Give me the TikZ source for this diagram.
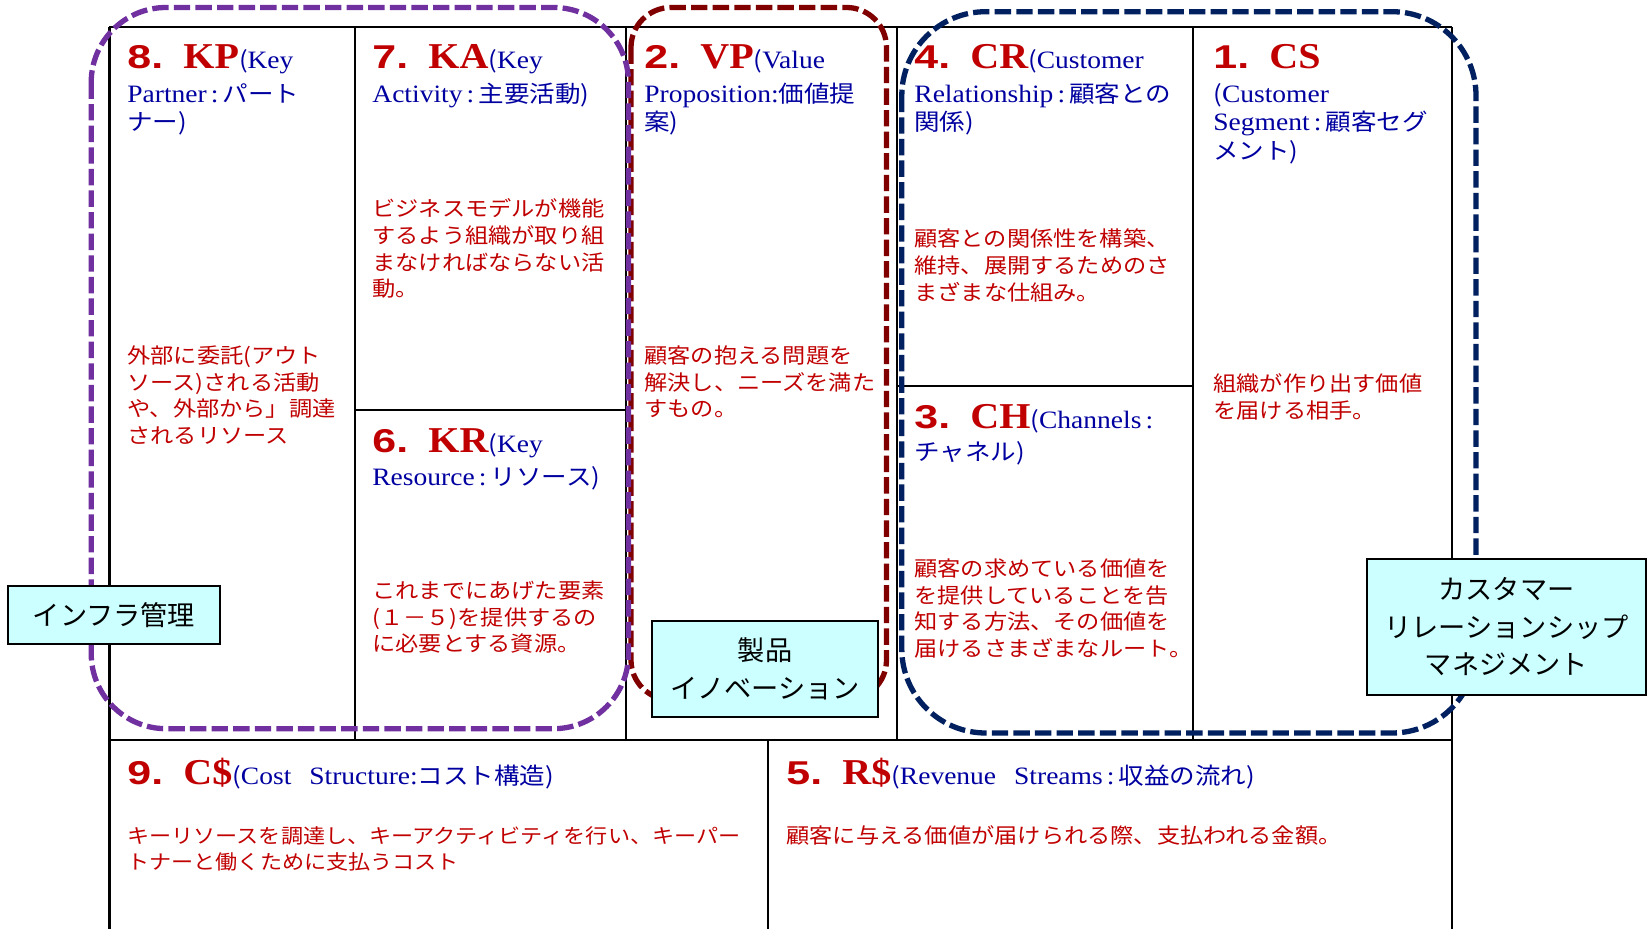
\documentclass[tikz,border=0pt]{standalone}
\usepackage{fontspec}
\setmainfont{Liberation Serif}[FakeStretch=1.1]
\newfontfamily\jp{Noto Sans CJK JP}[FakeStretch=1.1]
\newfontfamily\jpbox{Noto Sans CJK JP}
\newfontfamily\numf{Liberation Sans}[FakeStretch=1.3]
\definecolor{tred}{RGB}{192,0,0}
\definecolor{tblue}{RGB}{0,0,160}
\definecolor{zpurple}{RGB}{112,48,160}
\definecolor{zdred}{RGB}{128,0,0}
\definecolor{znavy}{RGB}{0,32,96}
\definecolor{boxcyan}{RGB}{204,255,255}
\newcommand\ttlnum[2]{{\color{tred}\makebox[28pt][l]{\numf\bfseries\fontsize{16.5}{16.5}\selectfont #1}\bfseries\fontsize{18.2}{18.2}\selectfont #2}}
\newcommand\J[1]{{\jp\fontsize{11.6}{14.25}\selectfont #1}}
\newcommand\fs{\rule{0pt}{11pt}}
\tikzset{
  gridline/.style={line width=1.1pt, draw=black},
  zone/.style={line width=2.65pt, dash pattern=on 8.2pt off 2.6pt},
  callout/.style={draw=black, line width=1pt, fill=boxcyan, inner sep=0pt, align=center,
    font=\jpbox\fontsize{13.6}{18.75}\selectfont},
  ttl/.style={anchor=base west, inner sep=0pt, text=tblue, font=\fontsize{12.5}{14.25}\selectfont},
  sub/.style={anchor=north west, inner sep=0pt, align=left, text=tblue, font=\fontsize{12.5}{14.25}\selectfont},
  body/.style={anchor=north west, inner sep=0pt, align=left, text=tred, font=\jp\fontsize{10.55}{13.33}\selectfont},
}
\begin{document}
\begin{tikzpicture}[x=0.5pt, y=-0.5pt]
\useasboundingbox (0,0) rectangle (1650,929);
% grid
\draw[gridline] (109.4,27) -- (1452,27);
\draw[gridline] (109.4,27) -- (109.4,935);
\draw[gridline] (1452,27) -- (1452,935);
\draw[gridline] (354.6,27) -- (354.6,740);
\draw[gridline] (626,27) -- (626,740);
\draw[gridline] (896.6,27) -- (896.6,740);
\draw[gridline] (1193,27) -- (1193,740);
\draw[gridline] (109.4,740) -- (1452,740);
\draw[gridline] (354.6,410.4) -- (626,410.4);
\draw[gridline] (896.6,386.2) -- (1193,386.2);
\draw[gridline] (768,740) -- (768,935);
% zones
\draw[zone, draw=zdred, rounded corners=20pt] (631,7.5) rectangle (886.5,700);
\draw[zone, draw=zpurple, rounded corners=37.5pt] (91.2,7.5) rectangle (628.5,728.7);
\draw[zone, draw=znavy, rounded corners=42pt] (901.8,11.7) rectangle (1476,733);
% callouts
\node[callout, minimum width=105.7pt, minimum height=29pt] (infra) at (114,615) {インフラ管理};
\node[callout, minimum width=113pt, minimum height=48.3pt] (prod) at (765,669) {製品\\イノベーション};
\node[callout, minimum width=139.5pt, minimum height=68pt] (crm) at (1506.5,627) {カスタマー\\リレーションシップ\\マネジメント};
% KP
\node[ttl] (kp-t) at (127,68.5) {\ttlnum{8.}{KP}\J{(}Key};
\node[sub] (kp-s) at (127,79.7) {\fs Partner\,:\,\J{パート}\\\J{ナー)}};
\node[body] (kp-b) at (127,341) {\fs 外部に委託(アウト\\ソース)される活動\\や、外部から」調達\\されるリソース};
% KA
\node[ttl] (ka-t) at (372,68.5) {\ttlnum{7.}{KA}\J{(}Key};
\node[sub] (ka-s) at (372,79.7) {\fs Activity\,:\,\J{主要活動)}};
\node[body] (ka-b) at (372,194.3) {\fs ビジネスモデルが機能\\するよう組織が取り組\\まなければならない活\\動。};
% KR
\node[ttl] (kr-t) at (372,453) {\ttlnum{6.}{KR}\J{(}Key};
\node[sub] (kr-s) at (372,463) {\fs Resource\,:\,\J{リソース)}};
\node[body] (kr-b) at (372,576) {\fs これまでにあげた要素\\(１－５)を提供するの\\に必要とする資源。};
% VP
\node[ttl] (vp-t) at (644,68.5) {\ttlnum{2.}{VP}\J{(}Value};
\node[sub] (vp-s) at (644,79.7) {\fs Proposition:\J{価値提}\\\J{案)}};
\node[body] (vp-b) at (644,341) {\fs 顧客の抱える問題を\\解決し、ニーズを満た\\すもの。};
% CR
\node[ttl] (cr-t) at (914,68.5) {\ttlnum{4.}{CR}\J{(}Customer};
\node[sub] (cr-s) at (914,79.7) {\fs Relationship\,:\,\J{顧客との}\\\J{関係)}};
\node[body] (cr-b) at (914,224.3) {\fs 顧客との関係性を構築、\\維持、展開するためのさ\\まざまな仕組み。};
% CH
\node[ttl] (ch-t) at (914,428.5) {\ttlnum{3.}{CH}\J{(}Channels\,:};
\node[sub] (ch-s) at (914,438) {\fs \J{チャネル)}};
\node[body] (ch-b) at (914,554) {\fs 顧客の求めている価値を\\を提供していることを告\\知する方法、その価値を\\届けるさまざまなルート。};
% CS
\node[ttl] (cs-t) at (1213,68.5) {\ttlnum{1.}{CS}};
\node[sub] (cs-s) at (1213,79.7) {\fs \J{(}Customer\\Segment\,:\,\J{顧客セグ}\\\J{メント)}};
\node[body] (cs-b) at (1213,369) {\fs 組織が作り出す価値\\を届ける相手。};
% C$
\node[ttl] (cost-t) at (127,785) {\ttlnum{9.}{C\$}\J{(}Cost\hspace{9pt}Structure:\J{コスト構造)}};
\node[body, font=\jp\fontsize{10.05}{13}\selectfont] (cost-b) at (127,821) {\fs キーリソースを調達し、キーアクティビティを行い、キーパー\\トナーと働くために支払うコスト};
% R$
\node[ttl] (rev-t) at (786,785) {\ttlnum{5.}{R\$}\J{(}Revenue\hspace{9pt}Streams\,:\,\J{収益の流れ)}};
\node[body] (rev-b) at (786,821) {\fs 顧客に与える価値が届けられる際、支払われる金額。};
\end{tikzpicture}
\end{document}
